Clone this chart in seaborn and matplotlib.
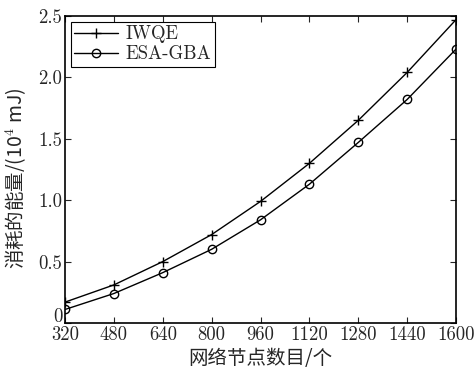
import matplotlib
matplotlib.use("Agg")
import matplotlib.pyplot as plt
import matplotlib.transforms as mtransforms
import seaborn as sns
import pandas as pd
from matplotlib.lines import Line2D

nodes = [320, 480, 640, 800, 960, 1120, 1280, 1440, 1600]
iwqe = [0.17, 0.31, 0.50, 0.72, 0.99, 1.30, 1.65, 2.04, 2.47]
esa_gba = [0.11, 0.24, 0.41, 0.60, 0.84, 1.13, 1.47, 1.82, 2.23]
y_ticks = [0, 0.5, 1.0, 1.5, 2.0, 2.5]
y_tick_labels = ["0", "0.5", "1.0", "1.5", "2.0", "2.5"]

df = pd.DataFrame({
    "nodes": nodes * 2,
    "energy": iwqe + esa_gba,
    "method": ["IWQE"] * len(nodes) + ["ESA-GBA"] * len(nodes),
})

sns.set_style("ticks")
plt.rcParams["font.family"] = ["cmr10", "Noto Sans CJK SC", "DejaVu Sans"]
plt.rcParams["mathtext.fontset"] = "cm"
plt.rcParams["axes.formatter.use_mathtext"] = True

fig = plt.figure(figsize=(4.76, 3.69), dpi=100)
ax = fig.add_axes([0.1366, 0.1247, 0.8214, 0.832])

sns.lineplot(data=df, x="nodes", y="energy", hue="method", style="method",
             markers={"IWQE": "P", "ESA-GBA": "o"}, dashes=False,
             palette={"IWQE": "black", "ESA-GBA": "black"}, ax=ax,
             linewidth=1.0, markersize=6, markerfacecolor="none",
             markeredgecolor="black", markeredgewidth=1.0, legend=False)
lines = ax.get_lines()
lines[0].set_marker("+")
lines[0].set_markersize(7)
lines[1].set_marker("o")
lines[1].set_markersize(6)

ax.set_xlim(320, 1600)
ax.set_ylim(0, 2.5)
ax.set_xticks(nodes)
ax.set_xticklabels([str(n) for n in nodes])
ax.set_yticks(y_ticks)
ax.set_yticklabels(y_tick_labels)
ax.tick_params(direction="in", top=True, right=True, labelsize=13.5, length=4,
               width=0.8, pad=2)
for s in ax.spines.values():
    s.set_linewidth(1.2)
    s.set_color("black")

# nudge the "0" label slightly upward so it sits just above "320"
zero_lbl = ax.get_yticklabels()[0]
zero_lbl.set_verticalalignment("bottom")
zero_lbl.set_transform(zero_lbl.get_transform() +
                       mtransforms.ScaledTranslation(0, -3 / 100, fig.dpi_scale_trans))

ax.set_xlabel("网络节点数目/个", fontsize=14,
              family=["Noto Sans CJK SC", "DejaVu Sans"], labelpad=3)
ax.set_ylabel("消耗的能量/(10$^4$ mJ)", fontsize=14,
              family=["Noto Sans CJK SC", "DejaVu Sans"])
ax.yaxis.set_label_coords(-0.095, 0.47)

handles = [Line2D([], [], color="black", lw=1.0, marker="+", markersize=7),
           Line2D([], [], color="black", lw=1.0, marker="o", markersize=6,
                  markerfacecolor="none")]
leg = ax.legend(handles, ["IWQE", "ESA-GBA"], loc="upper left",
                frameon=True, fancybox=False, edgecolor="black", framealpha=1,
                borderpad=0.2, labelspacing=0.1, handlelength=2.3,
                handletextpad=0.4, borderaxespad=0.3,
                prop={"family": ["cmr10", "DejaVu Sans"], "size": 13.5})
leg.get_frame().set_linewidth(0.8)

fig.savefig("out.png", dpi=100)
